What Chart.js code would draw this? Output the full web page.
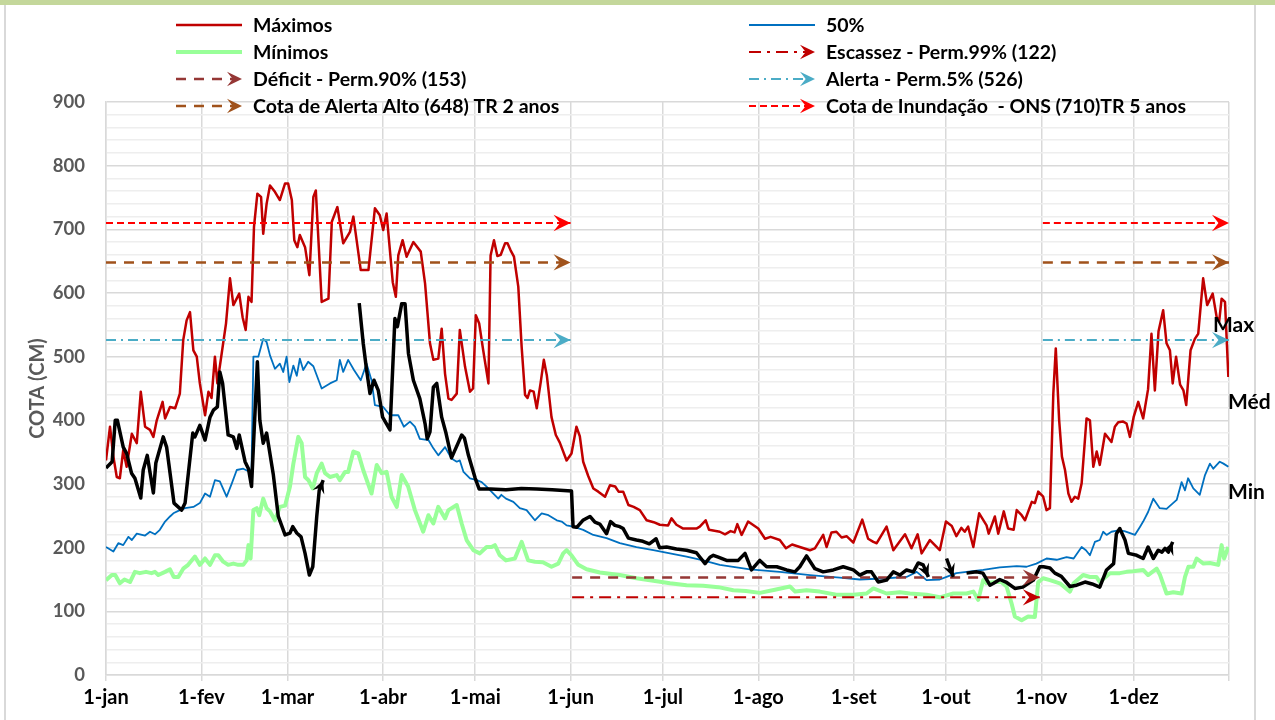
<!DOCTYPE html>
<html>
<head>
<meta charset="utf-8">
<script src="https://cdn.jsdelivr.net/npm/chart.js@4.4.1/dist/chart.umd.min.js"></script>
<style>
	html, body { margin: 0; padding: 0; background: #fff; }
	#wrap { position: relative; width: 1275px; height: 720px; }
</style>
</head>
<body>
<div id="wrap"><canvas id="cotaChart"></canvas></div>
<script>
// Month ticks (day of year) and labels
const monthStarts = [0, 31, 59, 90, 120, 151, 181, 212, 243, 273, 304, 334];
const monthLabels = ["1-jan", "1-fev", "1-mar", "1-abr", "1-mai", "1-jun", "1-jul", "1-ago", "1-set", "1-out", "1-nov", "1-dez"];

// Reference levels (cm)
const cotaInundacao = 710;
const cotaAlertaAlto = 648;
const cotaAlerta = 526;
const cotaDeficit = 153;
const cotaEscassez = 122;
// Day ranges where each group of reference levels is drawn
const cheiaRanges = [[0, 151], [304.5, 365]];
const secaRanges = [[151.5, 303.5]];

const seriesNames = [
	"Máximos", "Mínimos", "Déficit - Perm.90% (153)", "Cota de Alerta Alto (648) TR 2 anos",
	"50%", "Escassez - Perm.99% (122)", "Alerta - Perm.5% (526)", "Cota de Inundação  - ONS (710)TR 5 anos",
];
const sideLabels = ["Max", "Méd", "Min"];

// [day, cota]
const maximos = [[0,337],[1.3,390],[2.4,343],[3.5,311],[4.5,309],[5.6,353],[6.7,327],[8.4,379],[10,364],[11.3,445],[12.7,390],[14.3,385],[15.4,374],[16.5,400],[18.4,429],[19.2,403],[20.8,421],[22.5,419],[24,442],[25.1,526],[26.2,557],[27.3,570],[28.4,510],[29.5,500],[30.5,458],[32.2,408],[33.3,445],[34.3,435],[35.4,500],[36.2,458],[37.6,505],[39,552],[40.3,623],[41.4,581],[43.3,599],[44.4,562],[45.4,542],[46.3,594],[47.3,586],[48.1,704],[49.2,756],[50.4,751],[51.1,693],[52.2,740],[53.3,769],[54.9,759],[56.5,746],[58.2,772],[59.2,772],[60.4,746],[61.2,683],[62.2,672],[63,691],[64.7,672],[66.1,628],[67.4,751],[68.2,761],[70.1,586],[72.3,591],[73.4,712],[75.2,735],[77.1,678],[79.3,696],[80.4,720],[82.8,636],[85.3,636],[87.4,733],[89,722],[90.1,699],[91.2,725],[93.2,617],[94.2,594],[95,659],[96.4,683],[97.7,657],[99.9,680],[102.3,665],[103.7,615],[105.3,521],[106.4,495],[108,497],[109.1,544],[110.2,473],[111.3,434],[112.3,432],[114,442],[115,542],[116.7,484],[118.3,445],[119.3,450],[120.2,565],[121.3,552],[122.6,510],[124.3,458],[125,659],[126.1,683],[127.2,658],[128.3,660],[129.7,678],[130.5,678],[131.5,667],[132.6,657],[134,610],[135.1,515],[136.2,440],[137,435],[137.8,447],[139,445],[140,419],[141.3,460],[142.3,495],[143.3,470],[144.8,405],[146.2,377],[147.5,365],[149.7,337],[151.3,348],[152.9,390],[154,375],[155.1,335],[156.7,313],[158.4,293],[160,288],[162.2,280],[163.8,298],[165.5,296],[166.6,288],[168.1,288],[169.8,267],[171.5,264],[173.5,259],[175.7,243],[178,240],[180,236],[182.7,235],[183.8,246],[185.4,236],[187.6,230],[191.9,230],[193,233],[194.9,243],[196,228],[199.5,225],[201.2,221],[203,226],[204.3,224],[205.2,237],[206.6,220],[208.7,241],[212,230],[214.2,214],[216,217],[219,212],[221,199],[223,205],[225.5,201],[228.8,196],[230.4,199],[233.1,220],[234.2,201],[235.8,224],[237.4,225],[239.1,216],[240.7,218],[242.9,208],[245.8,244],[247.7,214],[249.4,209],[250.5,207],[253.7,233],[255.9,196],[259.7,221],[261.8,199],[263.8,221],[265.1,191],[267.8,212],[271,196],[273,241],[274.9,234],[276.4,218],[278,231],[279.1,225],[280.2,233],[281.9,201],[283.8,254],[286.2,235],[286.9,222],[288.9,249],[290,222],[291.8,257],[293.2,230],[295,228],[296,259],[297.6,251],[298.7,243],[300.9,272],[301.9,270],[303,288],[304.6,280],[305.7,259],[306.8,262],[307.9,442],[308.7,513],[309.8,400],[310.7,343],[311.7,322],[312.8,285],[313.8,272],[314.9,280],[316,277],[317.1,301],[318.7,403],[319.8,400],[320.9,327],[322,351],[323,330],[324.7,379],[326.8,366],[327.9,390],[329,397],[330.6,398],[331.7,395],[332.8,374],[334,405],[335.5,429],[337.1,403],[338.7,449],[339.8,536],[340.9,447],[342.1,540],[343.6,573],[344.7,521],[345.8,510],[346.7,458],[347.8,500],[349.1,456],[350.2,447],[351.1,424],[352.5,510],[353.9,528],[355,536],[356.6,623],[357.9,581],[359.7,599],[361,562],[361.8,555],[362.6,591],[363.7,586],[364.8,468]];

const mediana = [[0,201],[2.4,194],[4,207],[5.6,204],[7.3,217],[8.4,212],[10,222],[12.7,219],[14.3,225],[15.9,221],[17.5,228],[19.2,241],[20.8,249],[21.9,254],[24,259],[25.7,262],[28.4,264],[30.5,270],[32.2,285],[33.8,280],[35.4,306],[37,304],[39.2,280],[40.9,301],[42.5,322],[44.6,324],[46.3,320],[47.3,322],[47.9,500],[49.5,500],[51.1,528],[52.2,523],[53.3,502],[54.9,481],[56.5,489],[57.6,476],[58.7,500],[59.6,460],[60.9,486],[62,470],[63,497],[64.1,479],[65.7,492],[67.4,485],[70.1,450],[72.8,458],[75,463],[76,495],[77.1,476],[78.7,495],[80.6,479],[82.8,463],[84.7,489],[86.3,463],[87.4,424],[90.1,421],[92.3,408],[95,408],[96.8,390],[98.8,398],[100.4,390],[102,371],[104.8,369],[106.4,356],[108,345],[110.2,358],[112.3,340],[114,335],[115,337],[116.2,319],[118.3,309],[120.5,306],[122.1,303],[123.7,296],[125.9,285],[127.5,277],[128.5,283],[130,277],[132.4,272],[134.5,262],[136.7,259],[139.4,243],[141.6,254],[143.8,251],[146.5,243],[148.1,241],[149.7,235],[151.9,233],[155.1,228],[158.4,220],[162.7,215],[167,207],[172.4,201],[177.9,196],[183.3,191],[188.7,186],[194.1,180],[199.5,173],[209.3,166],[219,162],[228.8,157],[238.5,153],[245,150],[253.7,152],[260.2,154],[263.5,162],[266.7,149],[271,150],[273.2,154],[276.4,160],[279.7,162],[285.1,165],[290.5,169],[296,171],[299.2,170],[302.4,175],[305.7,183],[309,181],[312.2,185],[314.5,183],[317.1,201],[318.5,196],[319.8,188],[321.4,209],[323,212],[324.1,225],[325.2,220],[326.8,225],[329,227],[331,226],[333.3,222],[334.4,220],[336.1,233],[337.1,241],[338.7,256],[340.4,277],[342.5,262],[344.7,261],[348,275],[349.6,303],[350.7,290],[351.7,309],[353.4,293],[355.5,283],[357.2,314],[358.8,332],[359.9,324],[362,335],[363.2,332],[364.8,327]];

const minimos = [[0,149],[1.9,157],[3,157],[4.5,144],[6,150],[7.8,146],[9.4,162],[11,160],[13,162],[14.8,160],[15.9,162],[17,157],[19.2,162],[20.8,166],[22,154],[23.5,154],[25.1,167],[26.7,173],[28.9,186],[30.5,173],[32.2,183],[33.8,173],[35.4,188],[36.5,188],[38.1,178],[39.7,173],[41.4,175],[43,173],[44.6,173],[45.7,180],[46.3,204],[47,183],[47.9,259],[49,262],[49.8,251],[51.1,277],[52.2,262],[53.3,257],[54.9,243],[56.5,264],[58.2,266],[59.8,296],[60.9,332],[62.5,374],[63.6,364],[64.7,311],[65.8,306],[67.2,293],[68.5,317],[70.1,332],[71.2,317],[72.8,311],[75,314],[76,306],[77.7,319],[78.7,319],[80.4,351],[82,348],[83.6,322],[86.3,285],[88,330],[89.6,317],[91.2,319],[92.8,280],[94.5,264],[96.1,314],[98.2,296],[100.4,259],[103.1,225],[104.8,251],[106.4,238],[108,264],[110.2,246],[111.3,259],[114,267],[115.6,238],[117.2,212],[119.4,196],[121.5,191],[123.7,201],[125.3,201],[126.4,204],[128,188],[130,180],[132.9,183],[135.1,209],[137.2,180],[139.4,178],[142,177],[144.8,170],[147,175],[148.6,191],[149.7,196],[151.3,188],[153.5,173],[156.2,166],[160.5,161],[167,157],[172.4,152],[177.9,148],[183.3,144],[188.7,141],[194.1,140],[199,138],[203.9,133],[208,132],[212.5,129],[217.4,134],[222.3,139],[224,131],[227.7,133],[232,131],[237.4,126],[242.9,126],[247.2,128],[249.4,136],[253.7,128],[258,130],[261.3,128],[266.7,126],[271,122],[275.4,128],[279.7,128],[281.9,131],[283.5,118],[285.1,149],[286.2,144],[289,146],[291,146],[292.7,139],[294.3,113],[295.4,92],[297.6,86],[299.7,92],[301.9,91],[303,146],[304.6,152],[306.8,149],[310,144],[313.3,131],[314.5,144],[317.6,157],[319.8,154],[321.9,154],[323,146],[326.3,160],[329.5,160],[331.7,162],[333.8,163],[337.1,165],[338.7,157],[341.5,167],[342.6,157],[344.7,128],[346.9,130],[349.6,128],[350.7,154],[351.8,170],[353.4,170],[354.5,183],[356.7,175],[358.8,176],[361.5,173],[362.6,204],[363.4,183],[364.8,201]];

// Observed year (null = gap)
const observado = [[0,325],[2,335],[3,400],[3.7,400],[5.6,358],[6.7,348],[8.3,317],[9.4,309],[11.3,278],[12.1,322],[13.4,345],[15.4,286],[16.2,333],[18.6,374],[19.7,358],[22.1,270],[24.6,259],[25.7,270],[28.2,380],[28.9,374],[30.5,392],[32.2,369],[33.8,405],[34.9,416],[36.2,421],[37,476],[37.9,458],[39.7,377],[41.4,374],[42.5,356],[43.3,377],[45.2,335],[46.3,324],[47.3,296],[49.2,492],[50,400],[51.1,364],[52.2,380],[54.4,314],[56,249],[58.2,220],[59.8,223],[60.7,233],[62,223],[63.4,217],[64.7,191],[66.1,157],[67.2,170],[68.5,249],[69.3,290],[70.6,306],
	[76,null],
	[82.3,584],[83.6,521],[84.7,479],[85.8,442],[87.1,463],[88.5,447],[89.9,405],[92.3,385],[93.9,560],[94.7,547],[96.1,583],[97.2,583],[98.3,505],[99.9,463],[102,434],[103.7,395],[104.4,371],[105.3,382],[106.4,452],[107.5,458],[109.1,405],[110.5,380],[112.3,341],[114.5,365],[115.6,377],[116.5,372],[117.8,345],[120,309],[121.3,292],[125,292],[130,291],[135,293],[140,292],[145,291],[151.3,289],[151.8,233],[153,232],[155,243],[157.3,249],[158.9,240],[160.5,237],[162.7,222],[164,241],[165.4,235],[167,233],[168.1,230],[169.8,215],[172.4,212],[174.5,210],[176.6,206],[178.8,214],[179.9,200],[182.2,201],[185.4,198],[188.7,196],[191.9,192],[194.7,175],[196.3,185],[197.4,188],[199,185],[201.7,180],[205.5,180],[207.7,191],[209.8,165],[212.5,180],[214.7,170],[218,170],[221.2,165],[223.9,162],[225.5,170],[227.7,187],[230.4,167],[233.1,162],[236.4,165],[239.6,170],[242.9,165],[245,157],[247.2,162],[248.8,162],[251,146],[253.7,149],[255.9,162],[258,157],[260.2,165],[262.4,162],[264,176],[265.6,173],[267.3,154],
	[270,null],
	[273.2,183],[275.4,154],
	[277.5,null],
	[279.7,160],[283,162],[285,160],[287.3,141],[288.5,144],[290.5,150],[292.5,146],[295.4,136],[298,138],[301.4,149],[303.5,170],[304.7,170],[306.8,168],[308.4,160],[310.5,155],[313.3,139],[315.5,141],[318.2,146],[320.5,143],[323,138],[325.2,165],[327.5,175],[328.4,222],[329.5,230],[331.2,212],[332.3,191],[335,188],[337.1,183],[338.7,201],[340.4,183],[342,196],[343.2,193],[344.2,199],[345.3,193],[346.7,209]];

function toPoints(pairs) {
	return pairs.map((p) => ({ x: p[0], y: p[1] }));
}

function levelLine(value, ranges) {
	// One flat segment per range, with a gap in between
	const pts = [];
	ranges.forEach((r, i) => {
		if (i > 0) pts.push({ x: (ranges[i - 1][1] + r[0]) / 2, y: null });
		pts.push({ x: r[0], y: value });
		pts.push({ x: r[1], y: value });
	});
	return pts;
}

function drawArrowHead(ctx, x, y, angle, color, size) {
	ctx.save();
	ctx.translate(x, y);
	ctx.rotate(angle);
	ctx.setLineDash([]);
	ctx.fillStyle = color;
	ctx.beginPath();
	ctx.moveTo(0, 0);
	ctx.lineTo(-size, -size * 0.48);
	ctx.lineTo(-size * 0.62, 0);
	ctx.lineTo(-size, size * 0.48);
	ctx.closePath();
	ctx.fill();
	ctx.restore();
}

// Draws an arrow at the end of each line segment of datasets with arrowSize
const arrowEnds = {
	id: "arrowEnds",
	afterDatasetsDraw(chart) {
		const ctx = chart.ctx;
		chart.data.datasets.forEach((ds, i) => {
			if (!ds.arrowSize) return;
			const pts = chart.getDatasetMeta(i).data;
			for (let k = 1; k < ds.data.length; k++) {
				if (ds.data[k].y == null || ds.data[k - 1].y == null) continue;
				const next = ds.data[k + 1];
				if (next && next.y != null) continue;
				const a = Math.atan2(pts[k].y - pts[k - 1].y, pts[k].x - pts[k - 1].x);
				drawArrowHead(ctx, pts[k].x, pts[k].y, a, ds.borderColor, ds.arrowSize);
			}
		});
	},
};

// White page, green top band, grey frame
const frame = {
	id: "frame",
	beforeDraw(chart) {
		const ctx = chart.ctx;
		ctx.save();
		ctx.fillStyle = "#ffffff";
		ctx.fillRect(0, 0, chart.width, chart.height);
		ctx.fillStyle = "#c4d79b";
		ctx.fillRect(0, 0, chart.width, 5);
		ctx.strokeStyle = "#d9d9d9";
		ctx.lineWidth = 2;
		ctx.beginPath();
		ctx.moveTo(5, 5);
		ctx.lineTo(5, chart.height);
		ctx.moveTo(1255, 5);
		ctx.lineTo(1255, chart.height);
		ctx.stroke();
		ctx.restore();
	},
};

// Two-column legend at the top + Max/Méd/Min labels on the right
const legendBox = {
	id: "legendBox",
	afterDraw(chart) {
		const ctx = chart.ctx;
		const cols = [176, 749];
		const rows = [25, 52, 79, 106];
		ctx.save();
		seriesNames.forEach((name, n) => {
			const ds = chart.data.datasets.find((d) => d.label === name);
			const x0 = cols[Math.floor(n / 4)];
			const y = rows[n % 4];
			const x1 = x0 + 66;
			ctx.strokeStyle = ds.borderColor;
			ctx.lineWidth = ds.borderWidth;
			ctx.setLineDash(ds.borderDash || []);
			ctx.beginPath();
			ctx.moveTo(x0, y);
			ctx.lineTo(ds.arrowSize ? x1 - 8 : x1, y);
			ctx.stroke();
			if (ds.arrowSize) drawArrowHead(ctx, x1, y, 0, ds.borderColor, 15);
			ctx.setLineDash([]);
			ctx.fillStyle = "#000";
			ctx.font = "bold 19.5px Lato, 'Open Sans', sans-serif";
			ctx.textBaseline = "middle";
			ctx.textAlign = "left";
			ctx.fillText(name, x1 + 11, y + 1);
		});
		const yScale = chart.scales.y;
		const right = chart.chartArea.right;
		const spots = [[549, -16], [428, -1], [287, -1]];
		ctx.font = "bold 21px Lato, 'Open Sans', sans-serif";
		sideLabels.forEach((t, i) => {
			ctx.fillText(t, right + spots[i][1], yScale.getPixelForValue(spots[i][0]));
		});
		ctx.restore();
	},
};

Chart.defaults.font.family = "Lato, 'Open Sans', sans-serif";

const lineBase = { pointRadius: 0, pointHoverRadius: 0, tension: 0, fill: false, spanGaps: false, borderJoinStyle: "round" };

new Chart(document.getElementById("cotaChart").getContext("2d"), {
	type: "line",
	data: {
		datasets: [
			{ ...lineBase, label: "Observado", data: toPoints(observado), borderColor: "#000000", borderWidth: 3.5, arrowSize: 13, order: 0 },
			{ ...lineBase, label: seriesNames[7], data: levelLine(cotaInundacao, cheiaRanges), borderColor: "#ff0000", borderWidth: 2, borderDash: [7, 4], borderJoinStyle: "miter", arrowSize: 17, order: 1 },
			{ ...lineBase, label: seriesNames[3], data: levelLine(cotaAlertaAlto, cheiaRanges), borderColor: "#a0521b", borderWidth: 2.5, borderDash: [10, 8], borderJoinStyle: "miter", arrowSize: 17, order: 1 },
			{ ...lineBase, label: seriesNames[6], data: levelLine(cotaAlerta, cheiaRanges), borderColor: "#4bacc6", borderWidth: 2, borderDash: [10, 5, 2, 5], borderJoinStyle: "miter", arrowSize: 17, order: 1 },
			{ ...lineBase, label: seriesNames[2], data: levelLine(cotaDeficit, secaRanges), borderColor: "#953735", borderWidth: 2.5, borderDash: [10, 8], borderJoinStyle: "miter", arrowSize: 17, order: 1 },
			{ ...lineBase, label: seriesNames[5], data: levelLine(cotaEscassez, secaRanges), borderColor: "#c00000", borderWidth: 2, borderDash: [12, 6, 3, 6], borderJoinStyle: "miter", arrowSize: 17, order: 1 },
			{ ...lineBase, label: seriesNames[0], data: toPoints(maximos), borderColor: "#c00000", borderWidth: 2.5, order: 2 },
			{ ...lineBase, label: seriesNames[4], data: toPoints(mediana), borderColor: "#0070c0", borderWidth: 1.8, order: 3 },
			{ ...lineBase, label: seriesNames[1], data: toPoints(minimos), borderColor: "#99ff99", borderWidth: 4, order: 4 },
		],
	},
	options: {
		responsive: true,
		maintainAspectRatio: false,
		animation: false,
		events: [],
		layout: { padding: { top: 102, right: 46, left: 0, bottom: 0 } },
		plugins: {
			legend: { display: false },
			tooltip: { enabled: false },
		},
		scales: {
			x: {
				type: "linear",
				min: 0,
				max: 365,
				afterBuildTicks: (scale) => {
					scale.ticks = monthStarts.concat([365]).map((v) => ({ value: v }));
				},
				afterFit: (scale) => {
					scale.height = 45;
				},
				ticks: {
					autoSkip: false,
					maxRotation: 0,
					padding: 5,
					color: "#000000",
					font: { size: 20, weight: "bold" },
					callback: (value, index) => monthLabels[index] || "",
				},
				grid: { color: "#d9d9d9", lineWidth: 1.5, tickLength: 6 },
				border: { color: "#d9d9d9", width: 1.5 },
			},
			y: {
				min: 0,
				max: 900,
				afterFit: (scale) => {
					scale.width = 106;
				},
				ticks: {
					stepSize: 20,
					autoSkip: false,
					padding: 21,
					color: "#595959",
					font: { size: 18.5, weight: "bold" },
					callback: (value) => (value % 100 === 0 ? value : ""),
				},
				grid: {
					drawTicks: false,
					lineWidth: 1.5,
					color: (c) => (c.tick && c.tick.value % 100 === 0 ? "#d9d9d9" : "#eeeeee"),
				},
				border: { color: "#d9d9d9", width: 1.5 },
				title: {
					display: true,
					text: "COTA (CM)",
					color: "#595959",
					font: { size: 20, weight: "bold" },
					padding: { top: 26, bottom: 0 },
				},
			},
		},
	},
	plugins: [frame, arrowEnds, legendBox],
});
</script>
</body>
</html>
